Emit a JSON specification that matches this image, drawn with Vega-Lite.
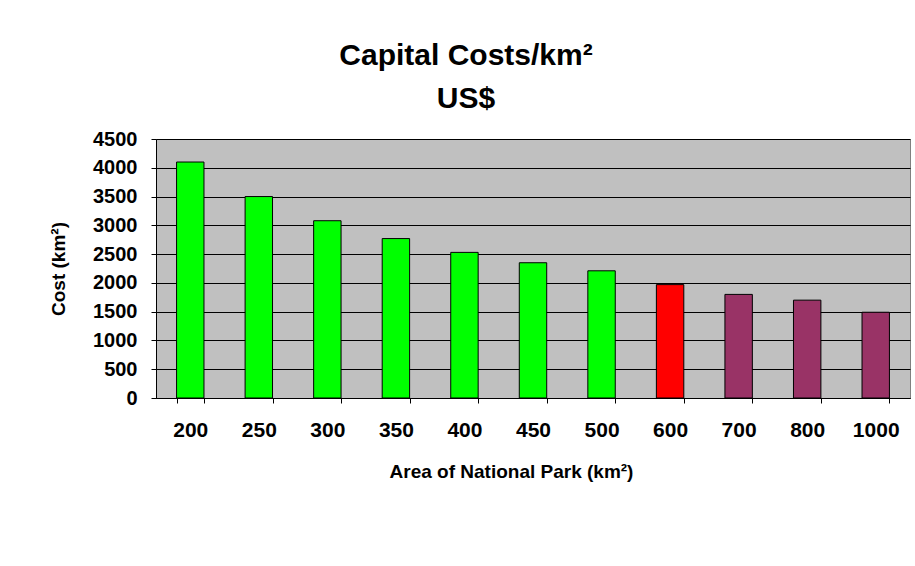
{
  "$schema": "https://vega.github.io/schema/vega-lite/v6.json",
  "width": 754,
  "height": 259,
  "autosize": "none",
  "padding": {"left": 156, "top": 139, "right": 5, "bottom": 168},
  "background": "white",
  "title": {
    "text": ["Capital Costs/km²", "US$"],
    "anchor": "middle",
    "frame": "group",
    "dx": -67,
    "offset": 15,
    "font": "Liberation Sans",
    "fontSize": 30,
    "fontWeight": "bold",
    "color": "black",
    "lineHeight": 43
  },
  "data": {
    "values": [
      {"area": "200", "cost": 4100, "group": "A"},
      {"area": "250", "cost": 3500, "group": "A"},
      {"area": "300", "cost": 3080, "group": "A"},
      {"area": "350", "cost": 2770, "group": "A"},
      {"area": "400", "cost": 2530, "group": "A"},
      {"area": "450", "cost": 2350, "group": "A"},
      {"area": "500", "cost": 2210, "group": "A"},
      {"area": "600", "cost": 1970, "group": "B"},
      {"area": "700", "cost": 1800, "group": "C"},
      {"area": "800", "cost": 1700, "group": "C"},
      {"area": "1000", "cost": 1490, "group": "C"}
    ]
  },
  "mark": {"type": "bar", "stroke": "black", "strokeWidth": 1},
  "encoding": {
    "x": {
      "field": "area",
      "type": "ordinal",
      "sort": null,
      "scale": {"paddingInner": 0.6, "paddingOuter": 0.3},
      "axis": {
        "title": "Area of National Park (km²)",
        "labelAngle": 0,
        "labelFont": "Liberation Sans",
        "labelFontSize": 21,
        "labelFontWeight": "bold",
        "labelColor": "black",
        "labelPadding": 16,
        "tickBand": "extent",
        "tickColor": "black",
        "tickSize": 5,
        "domainColor": "black",
        "titleFont": "Liberation Sans",
        "titleFontSize": 19,
        "titleFontWeight": "bold",
        "titleColor": "black",
        "titleX": 355,
        "titleY": 73,
        "titleBaseline": "middle"
      }
    },
    "y": {
      "field": "cost",
      "type": "quantitative",
      "scale": {"domain": [0, 4500], "nice": false},
      "axis": {
        "title": "Cost (km²)",
        "values": [0, 500, 1000, 1500, 2000, 2500, 3000, 3500, 4000, 4500],
        "format": "d",
        "grid": true,
        "gridColor": "black",
        "gridOpacity": 1,
        "gridWidth": 1,
        "labelFont": "Liberation Sans",
        "labelFontSize": 20,
        "labelFontWeight": "bold",
        "labelColor": "black",
        "labelPadding": 14,
        "tickColor": "black",
        "tickSize": 5,
        "domainColor": "black",
        "titleFont": "Liberation Sans",
        "titleFontSize": 19,
        "titleFontWeight": "bold",
        "titleColor": "black",
        "titleX": -98,
        "titleY": 129.5,
        "titleBaseline": "middle",
        "titleAngle": -90
      }
    },
    "color": {
      "field": "group",
      "type": "nominal",
      "scale": {"domain": ["A", "B", "C"], "range": ["#00FF00", "#FF0000", "#993366"]},
      "legend": null
    }
  },
  "config": {
    "view": {"fill": "#C0C0C0", "stroke": "#808080", "strokeWidth": 1}
  }
}
